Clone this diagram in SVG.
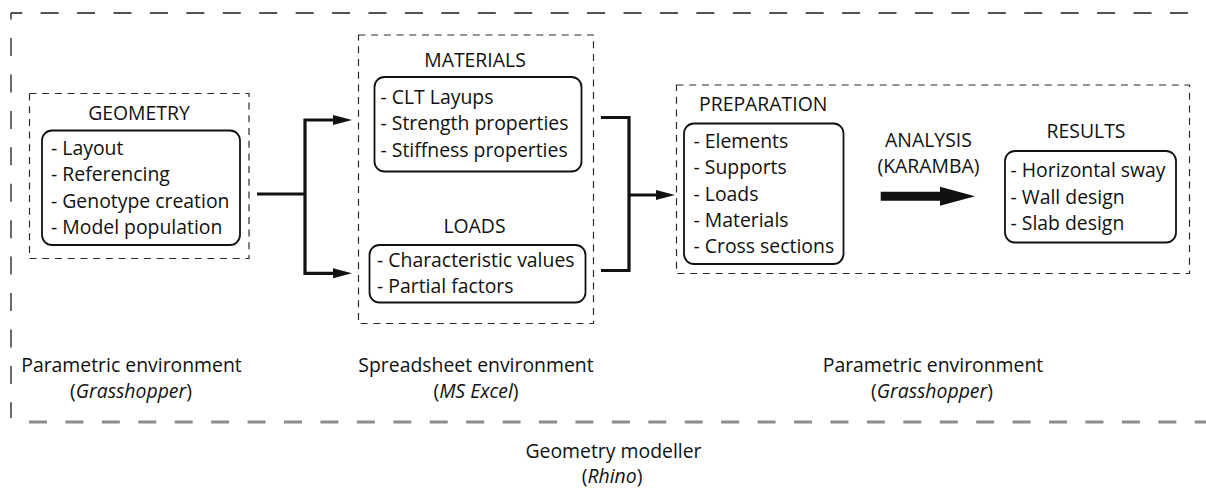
<svg xmlns="http://www.w3.org/2000/svg" width="1206" height="488" viewBox="0 0 1206 488">
  <defs>
    <style>
      text { font-family: "Open Sans", "Noto Sans", sans-serif; font-size: 19.4px; fill: #111; }
      .c { text-anchor: middle; }
      .it { font-style: italic; }
      .frame { fill: none; stroke: #1a1a1a; stroke-width: 1.3; stroke-dasharray: 18 18.43; }
      .base { fill: none; stroke: #8c8c8c; stroke-width: 3; stroke-dasharray: 18 18.43; }
      .env { fill: none; stroke: #2a2a2a; stroke-width: 1.2; stroke-dasharray: 7 5.7; }
      .card { fill: #fff; stroke: #111; stroke-width: 1.8; }
      .link { fill: none; stroke: #111; stroke-width: 3.2; stroke-linejoin: miter; }
    </style>
    <marker id="head" markerUnits="userSpaceOnUse" markerWidth="19" markerHeight="10" viewBox="0 0 19 10" refX="7" refY="5" orient="auto">
      <path d="M0,0 L19,5 L0,10 z" fill="#111"/>
    </marker>
  </defs>

  <rect width="1206" height="488" fill="#fff"/>

  <!-- Rhino frame: open dashed outline and grey base line -->
  <g id="rhino-frame">
    <path class="frame" d="M11,13 H1190" stroke-dashoffset="6.8"/>
    <path class="frame" d="M11,13 V418" stroke-dashoffset="11.4"/>
    <path class="base" d="M29,422 H1206"/>
    <text class="c" x="613.5" y="458.3">Geometry modeller</text>
    <text class="c" x="612" y="483">(<tspan class="it">Rhino</tspan>)</text>
  </g>

  <!-- Grasshopper: geometry stage -->
  <g id="geometry">
    <rect class="env" x="29.5" y="93.5" width="219.5" height="165"/>
    <text class="c" x="139" y="120">GEOMETRY</text>
    <rect class="card" x="42" y="130.5" width="198" height="114.5" rx="10"/>
    <text x="51" y="155">- Layout</text>
    <text x="51" y="181.3">- Referencing</text>
    <text x="51" y="207.6">- Genotype creation</text>
    <text x="51" y="233.9">- Model population</text>
    <text class="c" x="131.5" y="371.7">Parametric environment</text>
    <text class="c" x="131" y="398.3">(<tspan class="it">Grasshopper</tspan>)</text>
  </g>

  <!-- Excel: materials and loads -->
  <g id="spreadsheet">
    <rect class="env" x="358.5" y="35" width="235" height="288.5"/>
    <text class="c" x="476" y="371.7">Spreadsheet environment</text>
    <text class="c" x="476" y="398.3">(<tspan class="it">MS Excel</tspan>)</text>
  </g>

  <g id="materials">
    <text class="c" x="475" y="66.7">MATERIALS</text>
    <rect class="card" x="374.5" y="77" width="207" height="94.5" rx="10"/>
    <text x="380.5" y="104">- CLT Layups</text>
    <text x="380.5" y="130.3">- Strength properties</text>
    <text x="380.5" y="156.6">- Stiffness properties</text>
  </g>

  <g id="loads">
    <text class="c" x="474.5" y="233.3">LOADS</text>
    <rect class="card" x="369.5" y="245" width="216" height="57.5" rx="10"/>
    <text x="377" y="267.3">- Characteristic values</text>
    <text x="377" y="293.3">- Partial factors</text>
  </g>

  <!-- Grasshopper: preparation, analysis and results -->
  <g id="analysis-env">
    <rect class="env" x="676.5" y="85" width="513" height="188.5"/>
    <text class="c" x="933" y="371.7">Parametric environment</text>
    <text class="c" x="932" y="398.3">(<tspan class="it">Grasshopper</tspan>)</text>
  </g>

  <g id="preparation">
    <text x="699" y="110.5">PREPARATION</text>
    <rect class="card" x="684" y="123.5" width="159.5" height="140.5" rx="10"/>
    <text x="693.5" y="147.7">- Elements</text>
    <text x="693.5" y="174.1">- Supports</text>
    <text x="693.5" y="200.5">- Loads</text>
    <text x="693.5" y="226.9">- Materials</text>
    <text x="693.5" y="253.3">- Cross sections</text>
  </g>

  <g id="analysis">
    <text class="c" x="928.5" y="146.7">ANALYSIS</text>
    <text class="c" x="928.5" y="172.7">(KARAMBA)</text>
  </g>

  <g id="results">
    <text class="c" x="1086" y="138.3">RESULTS</text>
    <rect class="card" x="1005" y="151" width="171" height="91.5" rx="10"/>
    <text x="1010.5" y="177.3">- Horizontal sway</text>
    <text x="1010.5" y="203.6">- Wall design</text>
    <text x="1010.5" y="230">- Slab design</text>
  </g>

  <!-- Connectors -->
  <g id="connectors">
    <path class="link" d="M257,194 H305"/>
    <path class="link" d="M305,194 V120 H340" marker-end="url(#head)"/>
    <path class="link" d="M305,194 V273.3 H340" marker-end="url(#head)"/>
    <path class="link" d="M601,117.5 H629 V270.5 H601"/>
    <path class="link" d="M629,195 H663" marker-end="url(#head)"/>
    <path d="M880.7,191.7 H940 V186.7 L975,196.2 L940,205.7 V200.7 H880.7 Z" fill="#111"/>
  </g>
</svg>
